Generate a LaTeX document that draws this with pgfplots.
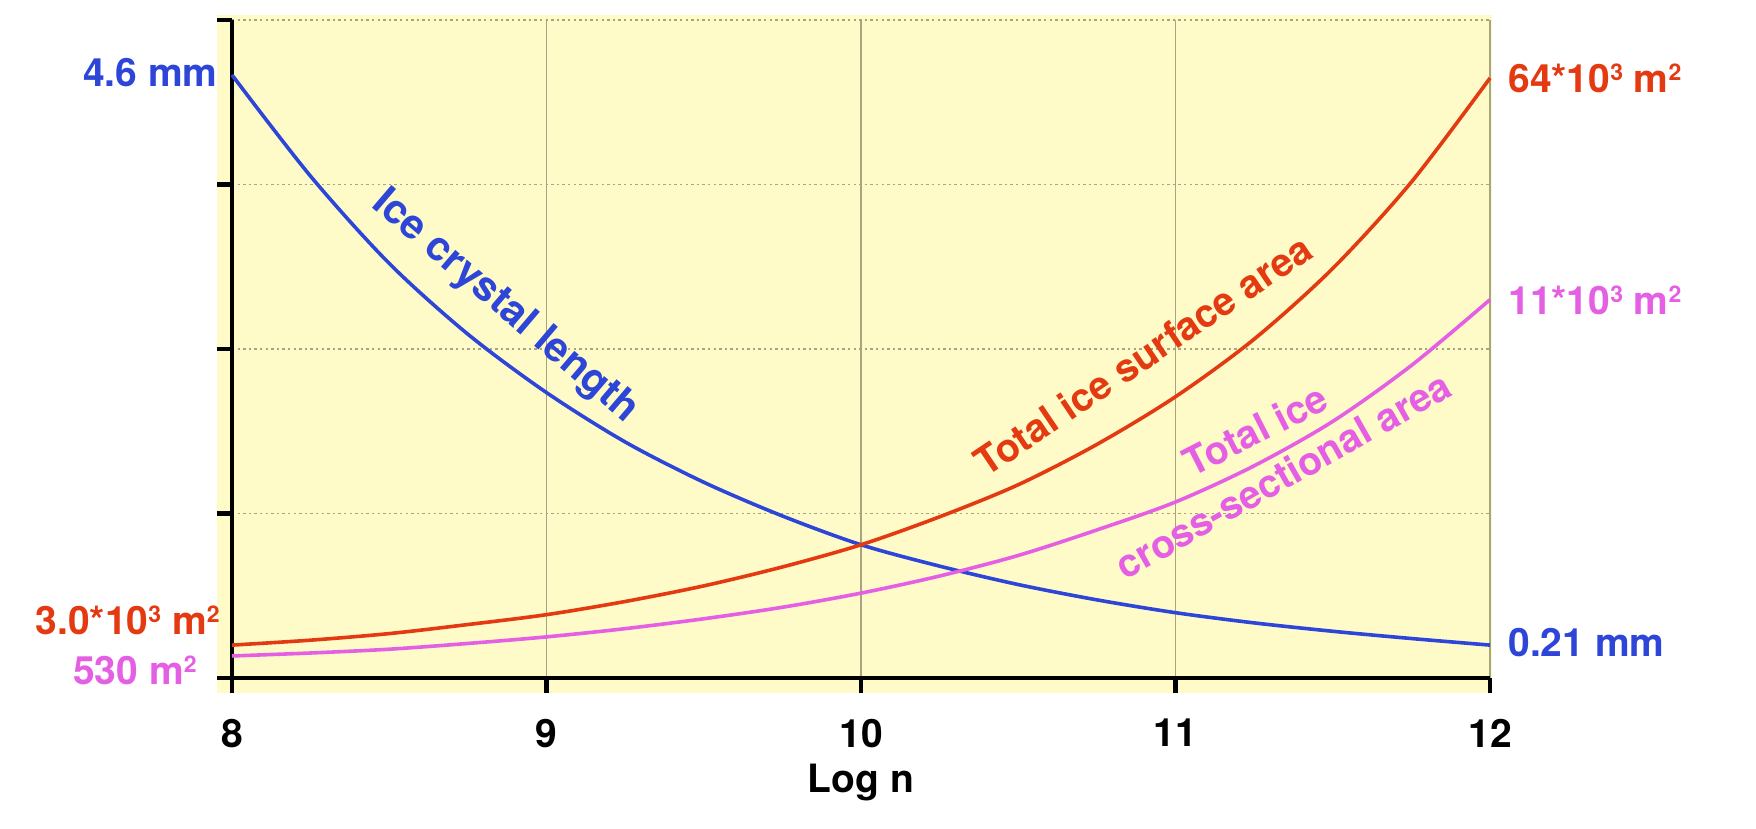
\documentclass[border=0pt]{standalone}
\usepackage{pgfplots}
\pgfplotsset{compat=1.18}
\usepackage{fontspec}
\setmainfont{TeX Gyre Heros}
\definecolor{cblue}{RGB}{45,70,215}
\definecolor{cred}{RGB}{228,58,18}
\definecolor{cpink}{RGB}{228,95,228}
\definecolor{bgyellow}{RGB}{254,251,200}
\definecolor{gridc}{RGB}{165,165,130}
\newcommand\lbl{\fontsize{19.5pt}{23pt}\selectfont\bfseries}
\newcommand\sups[1]{\raisebox{6pt}{\fontsize{11.5pt}{12pt}\selectfont #1}}
\begin{document}
\begin{tikzpicture}
\begin{axis}[
 set layers, scale only axis, width=629pt, height=329pt,
 xmin=8, xmax=12, ymin=0, ymax=4, clip=false,
 axis x line=bottom, axis y line=left,
 axis line style={line width=2.2pt, -},
 xtick={8,9,10,11,12}, xticklabels={8,9,10,11,12},
 ytick={0,1,2,3,4}, yticklabels={},
 tick align=outside, major tick length=7.5pt,
 tick style={line width=2.2pt, black},
 xmajorgrids, ymajorgrids,
 x grid style={gridc, line width=0.9pt},
 y grid style={gridc, line width=0.9pt, dash pattern=on 1.2pt off 1.6pt},
 xticklabel style={font=\lbl, yshift=-9.5pt},
 xlabel={Log n},
 xlabel style={font=\lbl, at={(axis description cs:0.5,0)}, anchor=base, yshift=-57pt},
]
\begin{pgfonlayer}{axis background}
\fill[bgyellow] (axis cs:7.952,-0.091) rectangle (axis cs:12.006,4.03);
\end{pgfonlayer}

\addplot[cblue, line width=1.8pt, smooth] coordinates {
(8.0,3.666) (8.25,3.05) (8.5,2.52) (8.75,2.09) (9.0,1.735) (9.25,1.435)
(9.5,1.19) (9.75,0.985) (10.0,0.81) (10.25,0.68) (10.5,0.568) (10.75,0.475)
(11.0,0.397) (11.25,0.335) (11.5,0.284) (11.75,0.24) (12.0,0.20)};

\addplot[cred, line width=1.8pt, smooth] coordinates {
(8.0,0.20) (8.25,0.23) (8.5,0.27) (8.75,0.325) (9.0,0.385) (9.25,0.465)
(9.5,0.56) (9.75,0.675) (10.0,0.81) (10.25,0.98) (10.5,1.175) (10.75,1.42)
(11.0,1.71) (11.25,2.06) (11.5,2.49) (11.75,3.015) (12.0,3.647)};

\addplot[cpink, line width=1.8pt, smooth] coordinates {
(8.0,0.134) (8.25,0.152) (8.5,0.175) (8.75,0.21) (9.0,0.25) (9.25,0.30)
(9.5,0.36) (9.75,0.43) (10.0,0.516) (10.25,0.62) (10.5,0.745) (10.75,0.90)
(11.0,1.07) (11.25,1.29) (11.5,1.56) (11.75,1.90) (12.0,2.30)};

\node[anchor=east, text=cblue, font=\lbl, inner sep=0pt] at (axis cs:7.9555,3.678) {4.6 mm};
\node[anchor=east, text=cred, font=\lbl, inner sep=0pt] at (axis cs:7.9618,0.3526) {3.0*10\sups{3} m\sups{2}};
\node[anchor=east, text=cpink, font=\lbl, inner sep=0pt] at (axis cs:7.8887,0.0486) {530 m\sups{2}};
\node[anchor=west, text=cred, font=\lbl, inner sep=0pt] at (axis cs:12.0572,3.647) {64*10\sups{3} m\sups{2}};
\node[anchor=west, text=cpink, font=\lbl, inner sep=0pt] at (axis cs:12.0572,2.298) {11*10\sups{3} m\sups{2}};
\node[anchor=west, text=cblue, font=\lbl, inner sep=0pt] at (axis cs:12.0572,0.2128) {0.21 mm};

\node[rotate=-40.5, text=cblue, font=\fontsize{20.5pt}{24pt}\selectfont\bfseries] at (axis cs:8.868,2.255) {Ice crystal length};
\node[rotate=34, text=cred, font=\lbl] at (axis cs:10.897,1.963) {Total ice surface area};
\node[rotate=27, text=cpink, font=\lbl] at (axis cs:11.253,1.508) {Total ice};
\node[rotate=29.5, text=cpink, font=\lbl] at (axis cs:11.342,1.234) {cross-sectional area};

\coordinate (BL) at (axis cs:7.2623,-0.9179);
\coordinate (TR) at (axis cs:12.8458,4.1216);
\end{axis}
\pgfresetboundingbox
\useasboundingbox (BL) rectangle (TR);
\end{tikzpicture}
\end{document}
